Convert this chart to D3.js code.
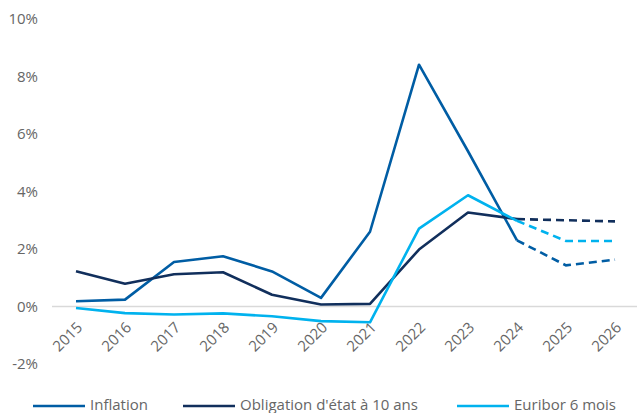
<!DOCTYPE html>
<html>
<head>
<meta charset="utf-8">
<script src="https://cdn.jsdelivr.net/npm/d3@7"></script>
<style>
  html, body { margin: 0; padding: 0; background: #fff; }
  svg { display: block; font-family: "Open Sans", "Noto Sans", sans-serif; }
</style>
</head>
<body>
<svg id="chart" width="637" height="413"></svg>
<script>
const years = ["2015","2016","2017","2018","2019","2020","2021","2022","2023","2024","2025","2026"];
const inflation = [0.18, 0.24, 1.55, 1.75, 1.22, 0.30, 2.60, 8.41, 5.40, 2.30, 1.43, 1.63];
const obligation = [1.23, 0.79, 1.12, 1.19, 0.41, 0.07, 0.09, 1.98, 3.27, 3.04, 3.00, 2.96];
const euribor = [-0.05, -0.23, -0.28, -0.24, -0.34, -0.51, -0.55, 2.71, 3.87, 2.98, 2.28, 2.28];
const seriesNames = ["Inflation", "Obligation d'état à 10 ans", "Euribor 6 mois"];
const seriesColors = ["#005DA4", "#112F5C", "#00B2EE"];
const yTicks = [-2, 0, 2, 4, 6, 8, 10];
const forecastFrom = "2024";

const svg = d3.select("#chart");
const fontSize = "15px";

const x = d3.scalePoint().domain(years).range([76, 615]);
const y = d3.scaleLinear().domain([-2, 10]).range([364, 19]);

// zero line
svg.append("line")
  .attr("x1", 52).attr("x2", 640)
  .attr("y1", y(0)).attr("y2", y(0))
  .attr("stroke", "#d9d9d9").attr("stroke-width", 1.5);

// y axis labels
const yAxis = d3.axisLeft(y).tickValues(yTicks).tickFormat(d => d + "%").tickSize(0).tickPadding(0);
const gy = svg.append("g").attr("transform", "translate(38,0)").call(yAxis);
gy.select(".domain").remove();
gy.selectAll("text").attr("fill", "#666").style("font-size", fontSize)
  .style("font-family", "'Open Sans', 'Noto Sans', sans-serif");

// x axis labels, rotated
const xAxis = d3.axisBottom(x).tickSize(0).tickPadding(0);
const gx = svg.append("g").attr("transform", `translate(0,${y(0)})`).call(xAxis);
gx.select(".domain").remove();
gx.selectAll("text")
  .attr("fill", "#666").style("font-size", fontSize)
  .style("font-family", "'Open Sans', 'Noto Sans', sans-serif")
  .attr("text-anchor", "end")
  .attr("dy", null).attr("y", 0)
  .attr("transform", "translate(4,19) rotate(-45)")
  .attr("dominant-baseline", "middle");

const data = [inflation, obligation, euribor];
const split = years.indexOf(forecastFrom);
const line = d3.line().x(d => x(d.year)).y(d => y(d.value));

data.forEach((vals, i) => {
  const pts = years.map((yr, j) => ({ year: yr, value: vals[j] }));
  svg.append("path")
    .datum(pts.slice(0, split + 1))
    .attr("d", line)
    .attr("fill", "none")
    .attr("stroke", seriesColors[i])
    .attr("stroke-width", 2.6)
    .attr("stroke-linejoin", "round");
  svg.append("path")
    .datum(pts.slice(split))
    .attr("d", line)
    .attr("fill", "none")
    .attr("stroke", seriesColors[i])
    .attr("stroke-width", 2.6)
    .attr("stroke-dasharray", "8,5");
});

// legend
const legendX = [33, 183, 457];
const legend = svg.append("g");
seriesNames.forEach((name, i) => {
  legend.append("line")
    .attr("x1", legendX[i]).attr("x2", legendX[i] + 52)
    .attr("y1", 406).attr("y2", 406)
    .attr("stroke", seriesColors[i]).attr("stroke-width", 2.6);
  legend.append("text")
    .attr("x", legendX[i] + 57).attr("y", 406)
    .attr("dominant-baseline", "middle")
    .attr("fill", "#666").style("font-size", fontSize)
    .text(name);
});
</script>
</body>
</html>
